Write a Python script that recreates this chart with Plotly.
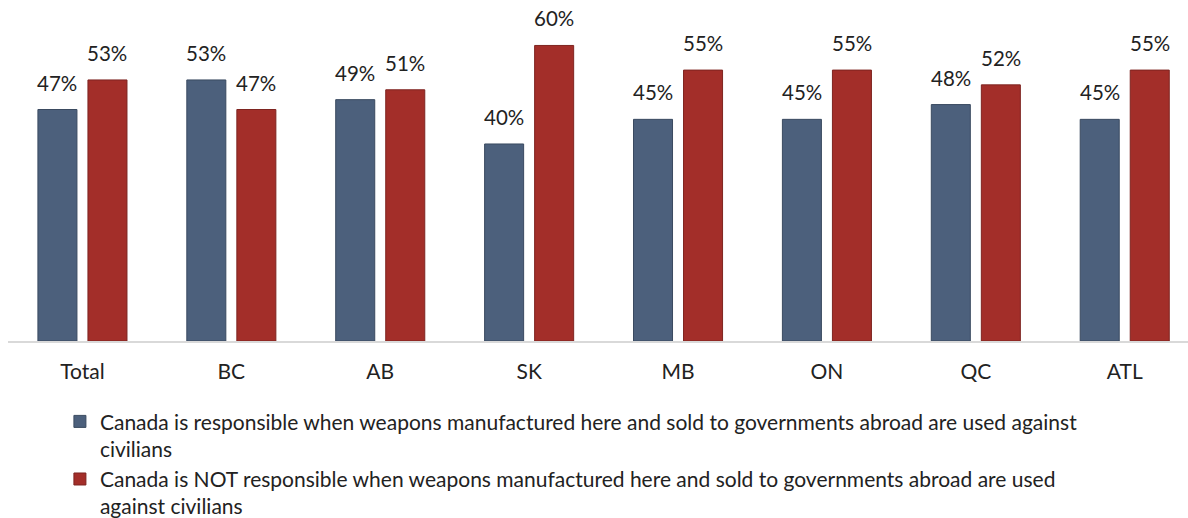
import plotly.graph_objects as go

categories = ["Total", "BC", "AB", "SK", "MB", "ON", "QC", "ATL"]
responsible = [47, 53, 49, 40, 45, 45, 48, 45]
not_responsible = [53, 47, 51, 60, 55, 55, 52, 55]
series_names = [
    "Canada is responsible when weapons manufactured here and sold to governments abroad are used against<br>civilians",
    "Canada is NOT responsible when weapons manufactured here and sold to governments abroad are used<br>against civilians",
]

BLUE = "#4c607c"
RED = "#a32e29"
FONT = "Lato"

fig = go.Figure()
fig.add_trace(go.Bar(x=categories, y=responsible, name=series_names[0],
                     marker=dict(color=BLUE, line=dict(color="#3a4a60", width=1))))
fig.add_trace(go.Bar(x=categories, y=not_responsible, name=series_names[1],
                     marker=dict(color=RED, line=dict(color="#7e2420", width=1))))

annotations = []
for vals, shift in ((responsible, -25), (not_responsible, 25)):
    for c, v in zip(categories, vals):
        annotations.append(dict(x=c, y=v, text=f"{v}%", showarrow=False,
                                xshift=shift, yshift=13, yanchor="bottom",
                                font=dict(family=FONT, size=20.5, color="#222222")))

fig.update_layout(
    width=1188, height=518,
    margin=dict(l=8, r=0, t=10, b=177, autoexpand=False),
    paper_bgcolor="white", plot_bgcolor="white",
    barmode="group", bargap=0.328, bargroupgap=0.22,
    font=dict(family=FONT, size=21, color="#222222"),
    annotations=annotations,
    xaxis=dict(range=[-0.5, 7.425], showline=True, linecolor="#d9d9d9", linewidth=2,
               showgrid=False, ticks="", ticklabelstandoff=11, automargin=False,
               tickfont=dict(family=FONT, size=21, color="#222222")),
    yaxis=dict(range=[0, 67.2], visible=False, automargin=False),
    legend=dict(x=0.044, y=-0.182, xanchor="left", yanchor="top", valign="top",
                font=dict(family=FONT, size=21, color="#222222"),
                itemwidth=30, tracegroupgap=0),
    showlegend=True,
)

fig.write_html("out.html")
